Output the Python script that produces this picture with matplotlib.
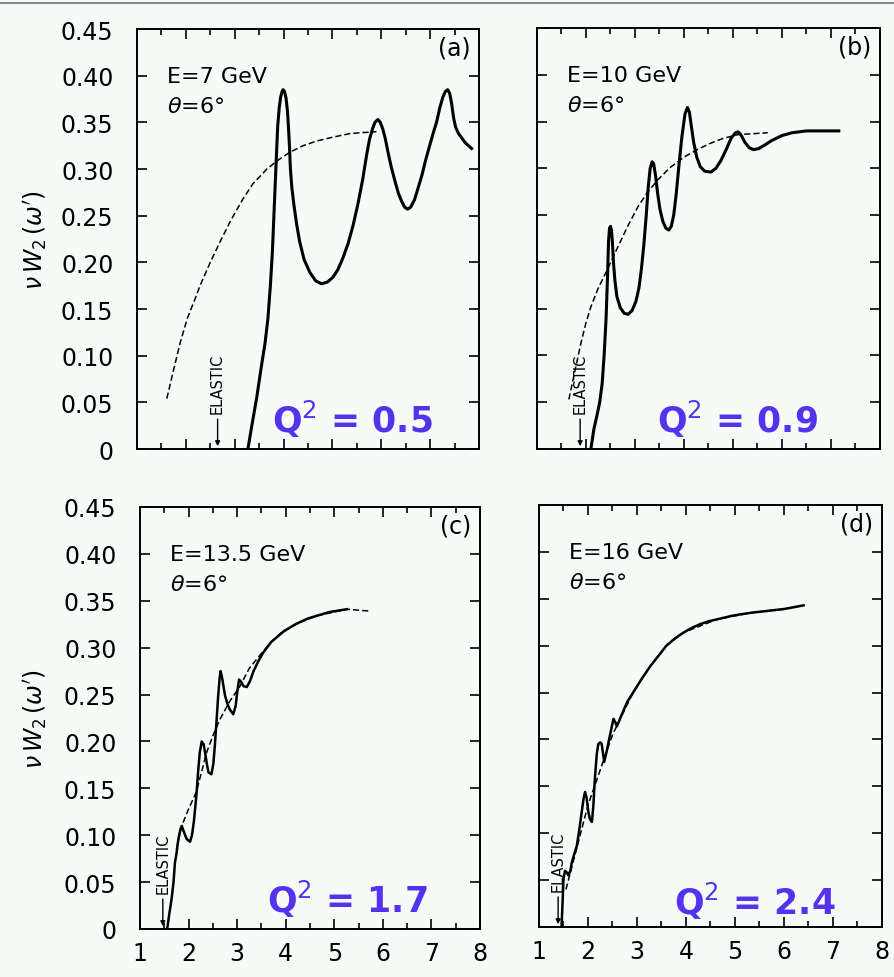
import matplotlib.pyplot as plt
from matplotlib.ticker import MultipleLocator
from matplotlib.lines import Line2D

# panel (a) E=7 GeV
a_solid_x = [3.27, 3.35, 3.45, 3.55, 3.62, 3.68, 3.73, 3.77, 3.81, 3.85, 3.88, 3.91, 3.94, 3.97, 3.99,
             4.02, 4.05, 4.08, 4.10, 4.12, 4.14, 4.17, 4.21, 4.27, 4.33, 4.42, 4.54, 4.66, 4.78, 4.90,
             5.01, 5.11, 5.21, 5.32, 5.42, 5.52, 5.62, 5.70, 5.76, 5.82, 5.87, 5.93, 5.98, 6.03, 6.08,
             6.13, 6.20, 6.28, 6.35, 6.42, 6.48, 6.54, 6.60, 6.68, 6.75, 6.83, 6.91, 6.99, 7.06, 7.13,
             7.20, 7.26, 7.31, 7.36, 7.40, 7.44, 7.48, 7.52, 7.58, 7.65, 7.72, 7.85]
a_solid_y = [0.0, 0.025, 0.055, 0.09, 0.113, 0.14, 0.175, 0.21, 0.26, 0.31, 0.346, 0.365, 0.377, 0.383, 0.385,
             0.383, 0.376, 0.362, 0.345, 0.325, 0.3, 0.28, 0.262, 0.24, 0.222, 0.203, 0.189, 0.18, 0.177, 0.179,
             0.184, 0.192, 0.204, 0.22, 0.239, 0.262, 0.289, 0.315, 0.332, 0.343, 0.35, 0.353, 0.35, 0.343, 0.333,
             0.32, 0.303, 0.287, 0.274, 0.265, 0.259, 0.257, 0.259, 0.267, 0.279, 0.293, 0.31, 0.325, 0.338, 0.35,
             0.366, 0.377, 0.383, 0.385, 0.381, 0.37, 0.355, 0.345, 0.338, 0.333, 0.328, 0.322]
a_dash_x = [1.61, 1.75, 1.88, 2.03, 2.19, 2.29, 2.50, 2.70, 2.93, 3.17, 3.37, 3.66, 3.90, 4.13, 4.40, 4.68,
            5.0, 5.36, 5.9]
a_dash_y = [0.054, 0.085, 0.113, 0.14, 0.161, 0.175, 0.2, 0.222, 0.246, 0.268, 0.284, 0.300, 0.31, 0.318,
            0.325, 0.330, 0.334, 0.338, 0.340]

# panel (b) E=10 GeV
b_solid_x = [2.10, 2.16, 2.22, 2.28, 2.33, 2.37, 2.41, 2.44, 2.46, 2.48, 2.50, 2.52, 2.54, 2.56, 2.59,
             2.63, 2.70, 2.78, 2.86, 2.94, 3.02, 3.08, 3.13, 3.18, 3.23, 3.27, 3.31, 3.35, 3.38, 3.42,
             3.46, 3.51, 3.57, 3.63, 3.69, 3.74, 3.79, 3.84, 3.90, 3.96, 4.02, 4.07, 4.11, 4.15, 4.20,
             4.26, 4.33, 4.42, 4.55, 4.65, 4.75, 4.86, 4.96, 5.05, 5.10, 5.16, 5.24, 5.33, 5.42, 5.52,
             5.65, 5.80, 6.0, 6.2, 6.5, 7.16]
b_solid_y = [0.0, 0.021, 0.035, 0.05, 0.07, 0.1, 0.14, 0.185, 0.222, 0.236, 0.238, 0.234, 0.22, 0.2, 0.18,
             0.163, 0.151, 0.145, 0.144, 0.148, 0.158, 0.172, 0.192, 0.218, 0.25, 0.28, 0.3, 0.307, 0.305, 0.292,
             0.274, 0.256, 0.243, 0.236, 0.234, 0.238, 0.25, 0.272, 0.305, 0.335, 0.358, 0.365, 0.36, 0.345, 0.327,
             0.312, 0.302, 0.297, 0.296, 0.3, 0.308, 0.32, 0.332, 0.338, 0.339, 0.336, 0.328, 0.322, 0.32, 0.321,
             0.325, 0.33, 0.335, 0.338, 0.34, 0.34]
b_dash_x = [1.65, 1.78, 1.90, 2.0, 2.10, 2.25, 2.41, 2.65, 2.85, 3.06, 3.25, 3.47, 3.72, 4.0, 4.27, 4.55,
            4.8, 5.1, 5.4, 5.71]
b_dash_y = [0.053, 0.085, 0.114, 0.135, 0.152, 0.172, 0.189, 0.216, 0.238, 0.259, 0.274, 0.288, 0.301, 0.312,
            0.32, 0.327, 0.332, 0.336, 0.337, 0.338]

# panel (c) E=13.5 GeV
c_solid_x = [1.56, 1.60, 1.65, 1.69, 1.72, 1.75, 1.79, 1.83, 1.86, 1.90, 1.96, 2.03, 2.07, 2.11, 2.16,
             2.20, 2.23, 2.27, 2.31, 2.34, 2.38, 2.41, 2.47, 2.51, 2.54, 2.58, 2.61, 2.64, 2.66, 2.69,
             2.75, 2.80, 2.85, 2.92, 2.97, 3.0, 3.04, 3.09, 3.13, 3.2, 3.27, 3.33, 3.43, 3.54, 3.7, 3.95,
             4.2, 4.45, 4.64, 4.9, 5.26]
c_solid_y = [0.0, 0.015, 0.032, 0.05, 0.071, 0.08, 0.096, 0.106, 0.11, 0.104, 0.096, 0.093, 0.1, 0.115, 0.142,
             0.17, 0.188, 0.2, 0.197, 0.188, 0.175, 0.167, 0.165, 0.176, 0.195, 0.225, 0.249, 0.268, 0.275, 0.268,
             0.249, 0.24, 0.234, 0.229, 0.238, 0.252, 0.266, 0.263, 0.259, 0.258, 0.265, 0.274, 0.285, 0.295, 0.306, 0.317,
             0.325, 0.331, 0.334, 0.338, 0.341]
c_dash_x = [1.75, 1.86, 2.0, 2.16, 2.37, 2.5, 2.65, 2.85, 3.06, 3.25, 3.47, 3.7, 3.95, 4.3, 4.64, 5.0, 5.26, 5.73]
c_dash_y = [0.085, 0.110, 0.128, 0.146, 0.188, 0.206, 0.224, 0.243, 0.259, 0.278, 0.292, 0.306, 0.318, 0.327,
            0.334, 0.338, 0.341, 0.339]

# panel (d) E=16 GeV
d_solid_x = [1.46, 1.48, 1.50, 1.53, 1.57, 1.60, 1.64, 1.67, 1.72, 1.77, 1.82, 1.87, 1.91, 1.94, 1.97,
             2.01, 2.04, 2.08, 2.11, 2.14, 2.18, 2.21, 2.25, 2.28, 2.33, 2.38, 2.45, 2.52, 2.56, 2.59,
             2.7, 2.8, 2.92, 3.1, 3.27, 3.45, 3.6, 3.78, 3.95, 4.12, 4.29, 4.46, 4.63, 4.95, 5.31, 5.65,
             5.99, 6.2, 6.4]
d_solid_y = [0.0, 0.025, 0.051, 0.06, 0.058, 0.055, 0.06, 0.069, 0.078, 0.086, 0.103, 0.122, 0.137, 0.144, 0.138,
             0.122, 0.115, 0.112, 0.13, 0.158, 0.185, 0.195, 0.197, 0.195, 0.176, 0.187, 0.205, 0.222, 0.218, 0.214,
             0.228, 0.24, 0.25, 0.265, 0.278, 0.29, 0.3, 0.308, 0.314, 0.319, 0.323, 0.326, 0.328, 0.332, 0.335, 0.337,
             0.339, 0.341, 0.343]
d_dash_x = [1.55, 1.8, 2.0, 2.2, 2.5, 2.92, 3.27, 3.6, 3.95, 4.63, 5.31, 5.99, 6.4]
d_dash_y = [0.04, 0.09, 0.13, 0.16, 0.205, 0.25, 0.278, 0.3, 0.314, 0.328, 0.335, 0.339, 0.343]

panel_tags = ['(a)', '(b)', '(c)', '(d)']
energies = ['E=7 GeV', 'E=10 GeV', 'E=13.5 GeV', 'E=16 GeV']
q2_values = ['0.5', '0.9', '1.7', '2.4']
elastic_x = [2.65, 1.88, 1.47, 1.39]
y_ticks = [0.0, 0.05, 0.10, 0.15, 0.20, 0.25, 0.30, 0.35, 0.40, 0.45]
y_ticklabels = ['0', '0.05', '0.10', '0.15', '0.20', '0.25', '0.30', '0.35', '0.40', '0.45']

BG = '#f6fbf8'
BLUE = '#5533ee'

W, H = 895, 978
fig = plt.figure(figsize=(W / 100, H / 100), dpi=100, facecolor=BG)

# axes boxes in pixels: left, right, top, bottom
boxes = [(137, 479, 30, 450), (537, 880, 29, 450), (140, 480, 508, 930), (539, 882, 506, 928)]
q2_pos = [(0.395, 0.04), (0.35, 0.04), (0.374, 0.04), (0.394, 0.031)]
curves = [(a_solid_x, a_solid_y, a_dash_x, a_dash_y),
          (b_solid_x, b_solid_y, b_dash_x, b_dash_y),
          (c_solid_x, c_solid_y, c_dash_x, c_dash_y),
          (d_solid_x, d_solid_y, d_dash_x, d_dash_y)]

for i, (l, r, t, b) in enumerate(boxes):
    ax = fig.add_axes([l / W, 1 - b / H, (r - l) / W, (b - t) / H])
    ax.set_facecolor(BG)
    sx, sy, dx, dy = curves[i]
    ax.plot(dx, dy, color='black', lw=1.1, linestyle=(0, (4, 2)))
    ax.plot(sx, sy, color='black', lw=2.2 if i < 2 else 1.8, solid_joinstyle='round')

    ax.set_xlim(1, 8)
    ax.set_ylim(0, 0.45)
    ax.xaxis.set_major_locator(MultipleLocator(1))
    ax.xaxis.set_minor_locator(MultipleLocator(0.5))
    ax.set_yticks(y_ticks)
    ax.tick_params(which='both', direction='in', top=True, right=True, width=1.2, color='black')
    ax.tick_params(which='major', length=7)
    ax.tick_params(which='minor', length=4)
    ax.tick_params(axis='y', labelsize=17, pad=17)
    ax.tick_params(axis='x', labelsize=17, pad=9)
    for sp in ax.spines.values():
        sp.set_linewidth(1.4)

    if i % 2 == 0:
        ax.set_yticklabels(y_ticklabels)
    else:
        ax.set_yticklabels([])
    if i < 2:
        ax.set_xticklabels([])

    ax.text(0.088, 0.888, energies[i], transform=ax.transAxes, fontsize=16, ha='left', va='center')
    ax.text(0.088, 0.817, r'$\theta$=6°', transform=ax.transAxes, fontsize=16, ha='left', va='center')
    ax.text(0.975, 0.955, panel_tags[i], transform=ax.transAxes, fontsize=17, ha='right', va='center')

    qx, qy = q2_pos[i]
    ax.text(qx, qy, 'Q$^2$ = ' + q2_values[i], transform=ax.transAxes, fontsize=25,
            fontweight='bold', color=BLUE, ha='left', va='baseline')

    ex = elastic_x[i]
    ax.text(ex, 0.071, 'ELASTIC', rotation=90, fontsize=10.5, ha='center', va='center')
    ax.annotate('', xy=(ex, 0.0), xytext=(ex, 0.035),
                arrowprops=dict(arrowstyle='-|>', color='black', lw=1.0, mutation_scale=7))

    if i % 2 == 0:
        yc = 1 - (t + b) / 2 / H
        fig.text(35 / W, yc, r"$\nu\,W_2\,(\omega')$", rotation=90, fontsize=17, ha='center', va='center')

# grey rule at top of the slide
fig.add_artist(Line2D([0, 1], [1 - 4 / H, 1 - 4 / H], color='#888888', lw=1.5))

fig.savefig('out.png', dpi=100, facecolor=BG)
